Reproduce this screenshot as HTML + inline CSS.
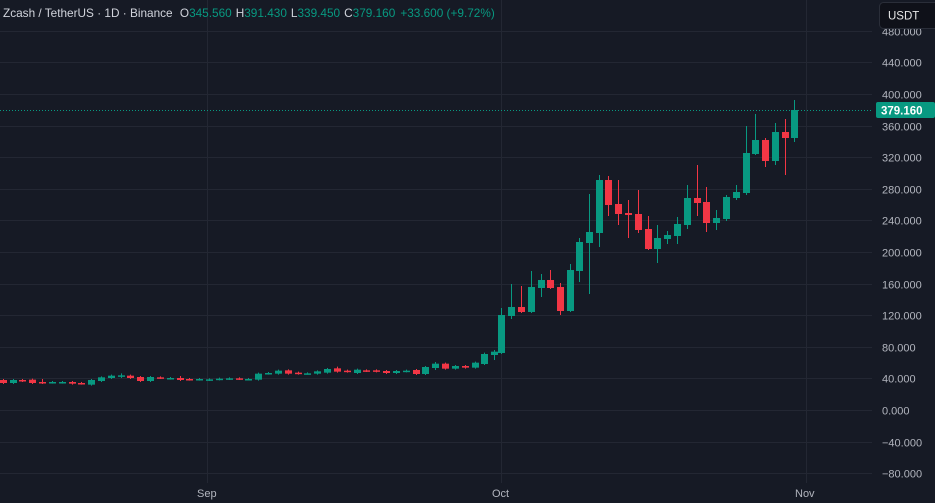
<!DOCTYPE html>
<html><head><meta charset="utf-8"><style>
html,body{margin:0;padding:0;background:#161a25;width:935px;height:503px;overflow:hidden}
svg{display:block}
text{font-family:"Liberation Sans",sans-serif}
</style></head><body>
<svg id="s" width="935" height="503" xmlns="http://www.w3.org/2000/svg">
<rect width="935" height="503" fill="#161a25"/>
<g id="grid" stroke="#232733" stroke-width="1"></g>
<g id="c"></g>
<line x1="0" y1="110.5" x2="872" y2="110.5" stroke="#089981" stroke-width="1" stroke-dasharray="1,2"/>
<g id="ax" font-size="11" fill="#b2b5be"></g>
<rect x="876" y="102" width="59" height="16" rx="2" fill="#089981"/>
<text x="881" y="114.5" font-size="11.5" font-weight="bold" fill="#fff">379.160</text>
<rect x="879.5" y="2.5" width="60" height="26" rx="4" fill="#0f1119" stroke="#2a2e39"/>
<text x="888" y="19.5" font-size="11.5" fill="#e6e6e6">USDT</text>
<text x="3" y="17" font-size="11.8" fill="#d1d4dc">Zcash / TetherUS · 1D · Binance <tspan dx="4">O</tspan><tspan fill="#089981">345.560</tspan><tspan dx="4">H</tspan><tspan fill="#089981">391.430</tspan><tspan dx="4">L</tspan><tspan fill="#089981">339.450</tspan><tspan dx="4">C</tspan><tspan fill="#089981">379.160</tspan><tspan dx="5" fill="#089981">+33.600 (+9.72%)</tspan></text>
</svg>
<script>
var NS="http://www.w3.org/2000/svg";
function el(p,t,a,txt){var e=document.createElementNS(NS,t);for(var k in a)e.setAttribute(k,a[k]);if(txt)e.textContent=txt;document.getElementById(p).appendChild(e);}
var vals=[480,440,400,360,320,280,240,200,160,120,80,40,0,-40,-80];
vals.forEach(function(v){var y=Math.round(410-v*0.79)+0.5;
 el("grid","line",{x1:0,x2:872,y1:y,y2:y});
 el("ax","text",{x:882,y:y+4},(v<0?"\u2212"+(-v):v)+".000");});
[207,501,806].forEach(function(x){el("grid","line",{x1:x+0.5,x2:x+0.5,y1:0,y2:483});});
el("ax","text",{x:197,y:497,"font-size":11},"Sep");
el("ax","text",{x:492,y:497,"font-size":11},"Oct");
el("ax","text",{x:795,y:497,"font-size":11},"Nov");
var E=[["r",90,99],["g",90,99],["r",90,93],["r",89,99],["r",96,99,87],["g",96,98],["g",96,98],["r",96,101],["r",99,101],["g",90,104],
["g",82,93],["g",77,84],["g",76,79,70,84],["r",77,84],["r",81,93],["g",81,93],["r",82,84],["g",84,86],["r",84,90,78],["r",87,89],
["g",87,89],["g",88,90],["g",86,88],["g",85,87],["r",85,87],["g",87,88],["g",71,89],["g",69,71],["g",62,71],["r",61,71],
["r",68,71],["g",70,71],["g",64,71],["g",57,68],["r",55,65,50],["r",62,65],["g",59,69],["r",61,63],["r",61,64],["r",63,69],
["g",63,69],["g",62,64],["r",60,72],["g",51,72],["g",41,54,36,60],["r",41,56],["g",48,56],["r",48,53],["g",38,53],["g",12,42,8],["g",5,15,0,30]];
function cand(x,col,t,b,ht,lb){var c=col=="g"?"#089981":"#f23645";
 el("c","line",{x1:x,x2:x,y1:ht,y2:lb,stroke:c,"stroke-width":1});
 var h=Math.max(1.5,b-t);el("c","rect",{x:x-3.5,y:t,width:7,height:h,fill:c});}
E.forEach(function(d,i){var x=Math.round(2.7+i*9.83)+0.5;var t=350+d[1]/3,b=350+d[2]/3;
 var ht=d[3]!=null?350+d[3]/3:t-1,lb=d[4]!=null?350+d[4]/3:b+1;cand(x,d[0],t,b,ht,lb);});
var L=[[501,"g",315,353,308,354],[511,"g",307,316,284,319],[521,"r",307,312,286,313],[531,"g",287,312,271,313],[541,"g",280,288,274,297],
[550,"r",280,288,270,289],[560,"r",287,311,283,315],[570,"g",270,311,264,312],[579,"g",242,271,238,282],[589,"g",232,243,194,294],
[599,"g",180,233,175,247],[608,"r",180,205,176,216],[618,"r",204,214,180,225],[628,"r",213,215,200,238],[638,"r",214,230,190,233],
[648,"r",229,249,216,250],[657,"g",238,249,225,263],[667,"g",235,239,231,244],[677,"g",224,236,217,244],[687,"g",198,225,185,229],
[697,"r",198,203,165,216],[706,"r",202,223,187,232],[716,"g",218,223,210,230],[726,"g",197,219,195,221],[736,"g",192,198,185,200],
[746,"g",153,193,126,195],[755,"g",140,154,114,155],[765,"r",140,161,138,167],[775,"g",132,161,123,165],[785,"r",132,138,119,175],[794,"g",110,138,100,142]];
L.forEach(function(d){cand(d[0]+0.5,d[1],d[2],d[3],d[4],d[5]);});
</script>
</body></html>
